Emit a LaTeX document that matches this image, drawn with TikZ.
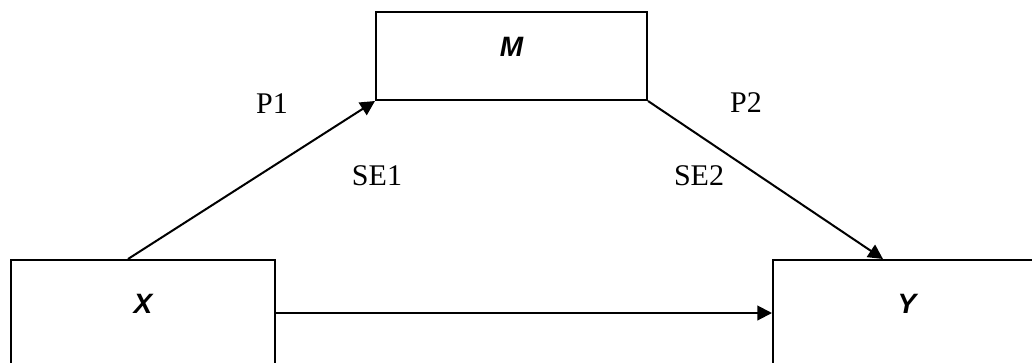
\documentclass[tikz,border=0pt]{standalone}
\usepackage{fontspec}
\setmainfont{Liberation Serif}
\setsansfont{Liberation Sans}
\usetikzlibrary{arrows.meta}

\tikzset{
  varbox/.style={draw=black, line width=1.5pt, rectangle, inner sep=0pt,
    font=\sffamily\bfseries\itshape\fontsize{21}{24}\selectfont, text depth=13pt},
  path/.style={line width=1.5pt, -{Triangle[length=11pt,width=11pt]}},
  coef/.style={font=\fontsize{22.5}{26}\selectfont}
}

\begin{document}
\begin{tikzpicture}[x=0.75pt,y=-0.75pt]
  \useasboundingbox (0,0) rectangle (1032,362);
  % variables
  \node[varbox, minimum width=271*0.75pt, minimum height=88*0.75pt] (M) at (511.5,56) {M};
  \node[varbox, minimum width=264*0.75pt, minimum height=106*0.75pt] (X) at (143,313) {X};
  \node[varbox, minimum width=268*0.75pt, minimum height=106*0.75pt] (Y) at (907,313) {Y};
  % paths
  \draw[path] ([xshift=-11.25pt]X.north) -- (M.south west);
  \draw[path] (M.south east) -- ([xshift=-18pt]Y.north);
  \draw[path] (X.east) -- (Y.west);
  % coefficients
  \node[coef] (p1) at (272,104) {P1};
  \node[coef] (se1) at (377,176) {SE1};
  \node[coef] (p2) at (746,103) {P2};
  \node[coef] (se2) at (699,176) {SE2};
\end{tikzpicture}
\end{document}
